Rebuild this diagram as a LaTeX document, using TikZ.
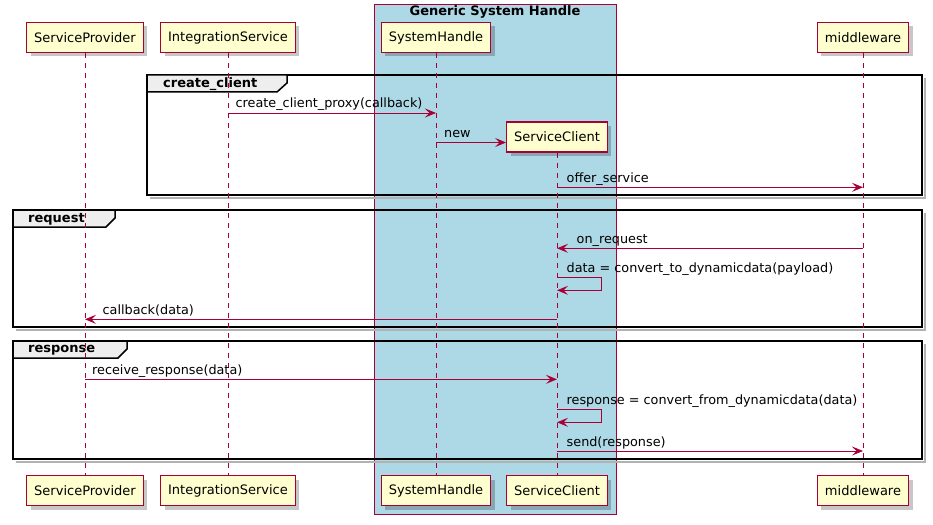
\documentclass[tikz,border=0pt]{standalone}
\usepackage{fontspec}
\setmainfont{DejaVu Sans}
\usepackage{tikz}
\usetikzlibrary{arrows.meta, positioning, shadows}
\definecolor{pumlred}{HTML}{A80036}
\definecolor{pumlbox}{HTML}{FEFECE}
\definecolor{pumlblue}{HTML}{ADD8E6}
\definecolor{pumltab}{HTML}{EEEEEE}

\tikzset{
  actor/.style={draw=pumlred, fill=pumlbox, line width=1.2pt, minimum height=30pt,
    inner xsep=7.5pt, inner ysep=0pt, font=\fontsize{13}{15}\selectfont,
    drop shadow={shadow xshift=4pt, shadow yshift=-4pt, fill=black, opacity=0.22}},
  lifeline/.style={draw=pumlred, dash pattern=on 5pt off 5pt, line width=0.8pt},
  msg/.style={draw=pumlred, line width=0.9pt, -{Stealth[length=11pt, width=9pt, inset=4.5pt]}},
  msglabel/.style={anchor=base west, inner sep=0pt, font=\fontsize{12.8}{15}\selectfont},
  frameline/.style={draw=black, line width=1.5pt},
  frameshadow/.style={draw=black!30, line width=1.5pt},
  tab/.style={fill=pumltab, draw=black, line width=1.5pt},
  tablabel/.style={anchor=west, inner sep=0pt, font=\fontsize{13}{15}\selectfont\bfseries},
}

\begin{document}
\begin{tikzpicture}[x=1pt, y=-1pt]
\useasboundingbox (0,0) rectangle (933,524);
\fill[white] (0,0) rectangle (933,524);

% generic system handle box
\filldraw[fill=pumlblue, draw=pumlred, line width=0.8pt] (374,4) rectangle (616,514);
\node[font=\fontsize{13}{15}\selectfont\bfseries, inner sep=0pt] (gsh) at (495,12) {Generic System Handle};

% frames
\draw[frameshadow] (925,78) -- (925,198) -- (150,198);
\draw[frameline] (147,75) rectangle (922,195);
\filldraw[tab] (147,75) -- (287,75) -- (287,83) -- (277,92) -- (147,92) -- cycle;
\node[tablabel] (fcreate) at (163,84) {create\_client};

\draw[frameshadow] (925,213) -- (925,330) -- (16,330);
\draw[frameline] (13,210) rectangle (922,327);
\filldraw[tab] (13,210) -- (115,210) -- (115,218) -- (106,227) -- (13,227) -- cycle;
\node[tablabel] (frequest) at (28,219) {request};

\draw[frameshadow] (925,344) -- (925,462) -- (16,462);
\draw[frameline] (13,341) rectangle (922,459);
\filldraw[tab] (13,341) -- (127,341) -- (127,349) -- (118,358) -- (13,358) -- cycle;
\node[tablabel] (fresponse) at (28,350) {response};

% participants
\node[actor] (spT) at (85,37.5) {ServiceProvider};
\node[actor] (isT) at (228,37.5) {IntegrationService};
\node[actor] (shT) at (436,37.5) {SystemHandle};
\node[actor] (scT) at (557,137) {ServiceClient};
\node[actor] (mwT) at (863,37.5) {middleware};

\node[actor] (spB) at (85,490.5) {ServiceProvider};
\node[actor] (isB) at (228,490.5) {IntegrationService};
\node[actor] (shB) at (436,490.5) {SystemHandle};
\node[actor] (scB) at (557,490.5) {ServiceClient};
\node[actor] (mwB) at (863,490.5) {middleware};

% lifelines
\draw[lifeline] (spT) -- (spB);
\draw[lifeline] (isT) -- (isB);
\draw[lifeline] (shT) -- (shB);
\draw[lifeline] (scT) -- (scB);
\draw[lifeline] (mwT) -- (mwB);

% messages
\coordinate (m1) at (0,113);
\coordinate (m2) at (0,142.5);
\coordinate (m3) at (0,187.3);
\coordinate (m4) at (0,248.3);
\coordinate (m5a) at (0,277.3);
\coordinate (m5b) at (0,290.3);
\coordinate (m6) at (0,319.3);
\coordinate (m7) at (0,379.3);
\coordinate (m8a) at (0,409.3);
\coordinate (m8b) at (0,422.3);
\coordinate (m9) at (0,451);

\draw[msg] (isT |- m1) -- (shT |- m1);
\node[msglabel] (l1) at (235.5,108) {create\_client\_proxy(callback)};
\draw[msg] (shT |- m2) -- (scT.west |- m2);
\node[msglabel] (l2) at (444,137.5) {new};
\draw[msg] (scT |- m3) -- (mwT |- m3);
\node[msglabel] (l3) at (566.5,182.3) {offer\_service};
\draw[msg] (mwT |- m4) -- (scT |- m4);
\node[msglabel] (l4) at (576.5,243.3) {on\_request};
\draw[msg] (scT |- m5a) -- ++(44,0) -- ++(0,13) -- (scT |- m5b);
\node[msglabel] (l5) at (566.5,272.3) {data = convert\_to\_dynamicdata(payload)};
\draw[msg] (scT |- m6) -- (spT |- m6);
\node[msglabel] (l6) at (102.5,314.3) {callback(data)};
\draw[msg] (spT |- m7) -- (scT |- m7);
\node[msglabel] (l7) at (92,374.3) {receive\_response(data)};
\draw[msg] (scT |- m8a) -- ++(44,0) -- ++(0,13) -- (scT |- m8b);
\node[msglabel] (l8) at (566.5,404.3) {response = convert\_from\_dynamicdata(data)};
\draw[msg] (scT |- m9) -- (mwT |- m9);
\node[msglabel] (l9) at (566.5,446) {send(response)};
\end{tikzpicture}
\end{document}
